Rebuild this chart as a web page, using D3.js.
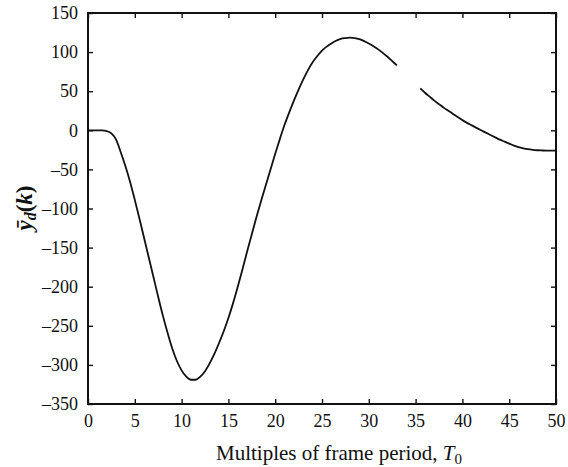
<!DOCTYPE html>
<html>
<head>
<meta charset="utf-8">
<script src="https://cdn.jsdelivr.net/npm/d3@7/dist/d3.min.js"></script>
<style>
  html, body { margin: 0; padding: 0; background: #fff; }
  svg text { font-family: "Liberation Serif", "DejaVu Serif", serif; fill: #111; }
</style>
</head>
<body>
<div id="chart"></div>
<script>
// ---- data ----
// sample spacing, in frame periods
const stepSize = 0.5;
// y values at k = 0, 0.5, 1, ... 50
const yValues = [
  0, 0, 0, 0, -1, -4, -12, -28, -46, -66,
  -89, -113, -138, -163, -188, -213, -237, -259, -279, -295,
  -307, -315, -319, -319, -315, -308, -298, -286, -272, -257,
  -240, -221, -200, -178, -155, -133, -111, -90, -70, -50,
  -30, -11, 7, 23, 38, 52, 65, 77, 87, 95,
  102, 107, 111, 114.5, 117, 118, 118.5, 118, 116.5, 114,
  111, 107.5, 103.5, 99, 94, 88.5, 83, 77, 71, 65,
  59, 53.5, 48, 43, 38, 33.5, 29, 25, 21, 17,
  13, 9.5, 6.3, 3.1, 0, -3, -6, -9, -12, -14.5,
  -17, -19.5, -21.5, -23, -24.2, -25, -25.5, -25.8, -26, -26,
  -26
];
const xTicks = [0, 5, 10, 15, 20, 25, 30, 35, 40, 45, 50];
const xTickLabels = ["0", "5", "10", "15", "20", "25", "30", "35", "40", "45", "50"];
const yTicks = [150, 100, 50, 0, -50, -100, -150, -200, -250, -300, -350];
const yTickLabels = ["150", "100", "50", "0", "\u201350", "\u2013100", "\u2013150", "\u2013200", "\u2013250", "\u2013300", "\u2013350"];
// faded stretch of the printed trace
const fadedRange = [33.2, 35.2];

const width = 568, height = 467;
const margin = { top: 13, right: 12, bottom: 63, left: 88 };
const innerW = width - margin.left - margin.right;
const innerH = height - margin.top - margin.bottom;

const svg = d3.select("#chart").append("svg")
  .attr("width", width)
  .attr("height", height);

const g = svg.append("g").attr("transform", `translate(${margin.left},${margin.top})`);

const x = d3.scaleLinear().domain([0, 50]).range([0, innerW]);
const y = d3.scaleLinear().domain([-350, 150]).range([innerH, 0]);

const points = yValues.map((v, i) => ({ k: i * stepSize, v }));

// trace
const line = d3.line()
  .defined((d) => d.k <= fadedRange[0] || d.k >= fadedRange[1])
  .x((d) => x(d.k))
  .y((d) => y(d.v))
  .curve(d3.curveMonotoneX);

g.append("path")
  .datum(points)
  .attr("fill", "none")
  .attr("stroke", "#111")
  .attr("stroke-width", 1.8)
  .attr("d", line);

// axes with inward ticks, MATLAB style box
const tickLen = 5;
g.append("g")
  .attr("transform", `translate(0,${innerH})`)
  .call(d3.axisBottom(x).tickValues(xTicks).tickSizeInner(-tickLen).tickSizeOuter(0)
    .tickPadding(10).tickFormat((d, i) => xTickLabels[i]))
  .call((a) => a.select(".domain").remove());

g.append("g")
  .call(d3.axisLeft(y).tickValues(yTicks).tickSizeInner(-tickLen).tickSizeOuter(0)
    .tickPadding(10).tickFormat((d, i) => yTickLabels[i]))
  .call((a) => a.select(".domain").remove());

g.append("g")
  .attr("transform", `translate(${innerW},0)`)
  .call(d3.axisRight(y).tickValues(yTicks).tickSizeInner(-tickLen).tickSizeOuter(0).tickFormat(""))
  .call((a) => a.select(".domain").remove());

g.append("g")
  .call(d3.axisTop(x).tickValues(xTicks).tickSizeInner(-tickLen).tickSizeOuter(0).tickFormat(""))
  .call((a) => a.select(".domain").remove());

g.selectAll(".tick line").attr("stroke", "#111").attr("stroke-width", 1.4);
g.selectAll(".tick text").attr("font-size", 18).attr("font-family", "Liberation Serif, serif").attr("fill", "#111");

g.append("rect")
  .attr("width", innerW)
  .attr("height", innerH)
  .attr("fill", "none")
  .attr("stroke", "#111")
  .attr("stroke-width", 2);

// axis titles
const xl = svg.append("text")
  .attr("x", 339)
  .attr("y", 460)
  .attr("text-anchor", "middle")
  .attr("font-size", 21);
xl.append("tspan").text("Multiples of frame period, ");
xl.append("tspan").attr("font-style", "italic").text("T");
xl.append("tspan").attr("font-size", 15).attr("dy", 4).text("0");

const yl = svg.append("text")
  .attr("transform", "translate(32,208) rotate(-90)")
  .attr("text-anchor", "middle")
  .attr("font-size", 23)
  .attr("font-weight", "bold");
yl.append("tspan").attr("font-style", "italic").text("y\u0304");
yl.append("tspan").attr("font-style", "italic").attr("font-size", 16).attr("dy", 4).text("d");
yl.append("tspan").attr("dy", -4).text("(");
yl.append("tspan").attr("font-style", "italic").text("k");
yl.append("tspan").text(")");
</script>
</body>
</html>
